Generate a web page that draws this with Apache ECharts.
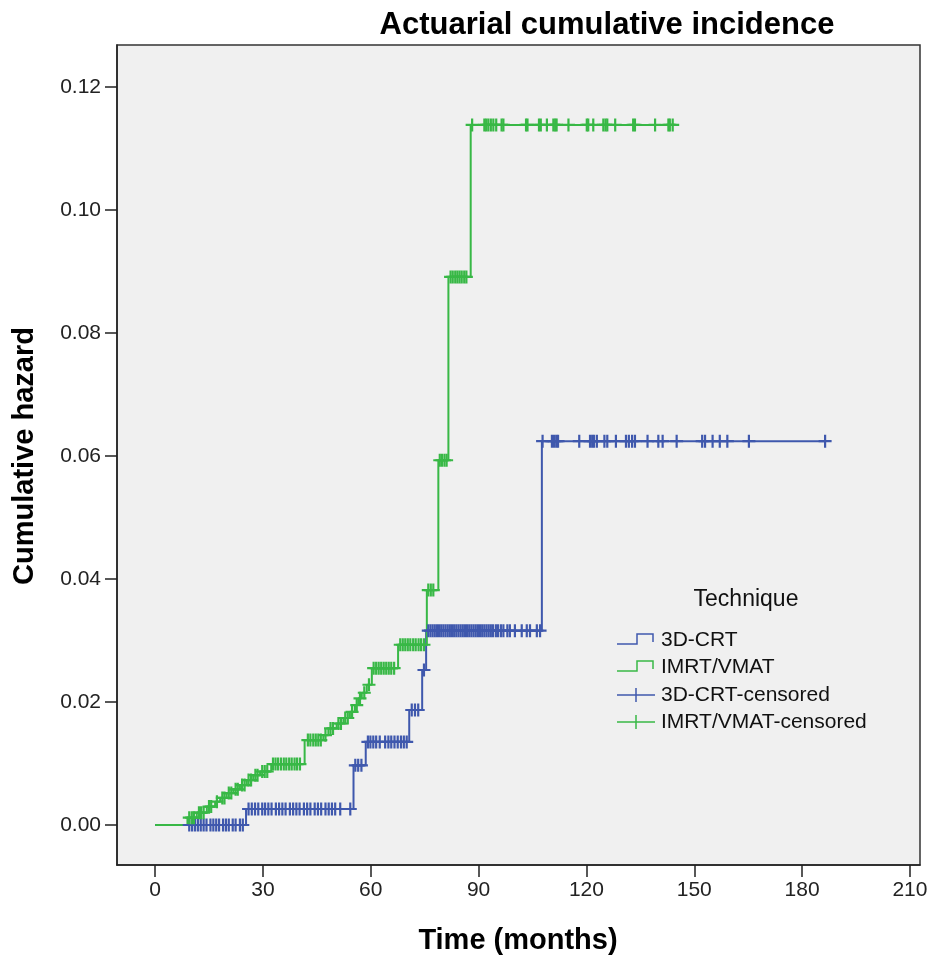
<!DOCTYPE html>
<html>
<head>
<meta charset="utf-8">
<title>Actuarial cumulative incidence</title>
<script src="https://cdn.jsdelivr.net/npm/echarts@6/dist/echarts.min.js"></script>
<style>
  html, body { margin: 0; padding: 0; background: #fff; }
  #chart { width: 936px; height: 960px; }
</style>
</head>
<body>
<div id="chart"></div>
<script>
// step events: [time, cumulative hazard after the event]
const crtSteps = [
  [0, 0], [25.3, 0.0026], [55.2, 0.0097], [58.6, 0.0135], [70.7, 0.0187],
  [74.3, 0.0252], [75.4, 0.0316], [107.6, 0.0624]
];
const crtEnd = 186.4;
const imrtSteps = [
  [0, 0], [9.0, 0.0012], [11.6, 0.002], [14.4, 0.003], [16.7, 0.0038],
  [18.1, 0.0044], [19.9, 0.0052], [21.8, 0.0058], [23.6, 0.0065], [25.5, 0.0073],
  [27.3, 0.0081], [29.2, 0.0087], [32.3, 0.0099], [41.6, 0.0138], [46.8, 0.0146],
  [48.2, 0.0157], [50.5, 0.0165], [52.4, 0.0174], [54.2, 0.0184], [55.6, 0.0195],
  [56.6, 0.0206], [57.5, 0.0215], [58.9, 0.0228], [60.3, 0.0255], [67.6, 0.0293],
  [75.6, 0.0382], [78.8, 0.0593], [81.6, 0.0891], [87.8, 0.1138]
];
const imrtEnd = 144.0;

// censored times (months)
const crtCensored = [
  9.5, 10.3, 11.1, 11.9, 12.7, 13.5, 14.3, 15.4, 16.2, 17, 17.8, 18.9, 19.7, 20.5, 21.6, 22.4, 23.6, 24.4,
  26, 26.9, 27.8, 28.7, 29.8, 30.6, 31.5, 32.4, 33.6, 34.5, 35.4, 36.3, 37.5, 38.4, 39.3, 40.2, 41.4,
  42.3, 43.2, 44.4, 45.3, 46.2, 47.4, 48.3, 49.2, 50.1, 51.5, 54.3,
  55.7, 56.5, 57.4,
  59.2, 59.9, 60.7, 61.5, 62.5, 64, 64.9, 65.7, 66.6, 67.5, 68.4, 69.2, 70,
  71.4, 72.3, 73.2, 74.8,
  76, 76.6, 77.2, 77.8, 78.4, 79, 79.6, 80.2, 80.8, 81.4, 82, 82.6, 83.2, 83.8, 84.4, 85, 85.6,
  86.2, 86.8, 87.4, 88, 88.6, 89.2, 89.8, 90.4, 91, 91.6, 92.2, 92.8, 93.4, 94, 94.8, 95.4, 96.2,
  96.9, 98, 98.7, 100.1, 102, 103.4, 104.3, 106.2, 107.1,
  107.8, 110.4, 111, 111.6, 112.1, 118, 121, 121.6, 122.1, 122.9, 125, 125.8, 128.2, 131, 131.8,
  132.7, 133.5, 137, 140, 141.2, 145.1, 152.2, 153, 155.1, 157.1, 159.2, 165.2, 186.4
];
const imrtCensored = [
  9.5, 10.2, 10.8, 12.2, 12.8, 13.5, 15, 15.6, 17.2, 18.7, 19.3, 20.5, 21.2, 22.4, 23, 24.2, 24.9,
  26, 26.7, 27.9, 28.5, 29.8, 30.5, 31.2, 32.8, 33.5, 34.2, 35, 35.8, 36.5, 37.3, 38, 38.8, 39.5,
  40.3, 42.5, 43.2, 44, 44.7, 45.4, 46.1, 47.4, 48.8, 49.5, 51, 51.7, 52.9, 53.6, 54.8, 56.1, 57,
  58.2, 59.5, 60.8, 61.5, 62.2, 62.9, 63.6, 64.3, 65, 65.7, 66.5, 68.2, 68.9, 69.6, 70.3, 71, 71.8,
  72.5, 73.3, 74, 74.8, 76, 76.7, 77.4, 79.2, 79.8, 80.5, 81.1, 82.2, 82.8, 83.5, 84.1, 84.7, 85.3,
  86, 86.6, 88.2, 91.6, 92.1, 92.7, 93.4, 94.1, 94.9, 96.4, 96.9, 103.2, 103.6, 106.8, 107.3, 109,
  110.8, 111.3, 111.7, 115, 120.1, 120.5, 121.9, 124.7, 125.3, 125.8, 128, 133, 133.5, 139.1,
  142.8, 143.2, 144
];

const xTicks = [0, 30, 60, 90, 120, 150, 180, 210];
const yTicks = [0, 0.02, 0.04, 0.06, 0.08, 0.1, 0.12];

const BLUE = "#3f58ad";
const GREEN = "#38b846";
const INK = "#222";
const FONT = "Liberation Sans, Arial, sans-serif";
// plus sign used for censored cases
const PLUS = "path://M5.4,0H7.6V5.4H13V7.6H7.6V13H5.4V7.6H0V5.4H5.4Z";

function valueAt(steps, t) {
  let v = 0;
  for (const s of steps) if (s[0] <= t) v = s[1];
  return v;
}
function withEnd(steps, end) {
  return steps.concat([[end, steps[steps.length - 1][1]]]);
}
function censorPoints(steps, times) {
  return times.map((t) => [t, valueAt(steps, t)]);
}

const chart = echarts.init(document.getElementById("chart"));

const legendX = 617;
const legendRows = [640, 667, 695, 722];
const stepIcon = (y) => [[legendX, y + 4], [legendX + 20, y + 4], [legendX + 20, y - 6], [legendX + 36, y - 6], [legendX + 36, y + 2]];

chart.setOption({
  animation: false,
  grid: {
    left: 117, top: 45, right: 16, bottom: 95,
    show: true, backgroundColor: "#f0f0f0", borderColor: "#333", borderWidth: 1.5
  },
  xAxis: {
    type: "value",
    min: -10.6,
    max: 212.8,
    axisLine: { show: true, onZero: false, lineStyle: { color: INK, width: 1.5 } },
    axisTick: { show: true, length: 12, customValues: xTicks, lineStyle: { color: INK, width: 1.5 } },
    axisLabel: { customValues: xTicks, fontSize: 21, color: INK, margin: 15, fontFamily: FONT },
    splitLine: { show: false }
  },
  yAxis: {
    type: "value",
    min: -0.0065,
    max: 0.1268,
    axisLine: { show: true, onZero: false, lineStyle: { color: INK, width: 1.5 } },
    axisTick: { show: true, length: 12, customValues: yTicks, lineStyle: { color: INK, width: 1.5 } },
    axisLabel: {
      customValues: yTicks, fontSize: 21, color: INK, margin: 16, fontFamily: FONT,
      formatter: (v) => v.toFixed(2)
    },
    splitLine: { show: false }
  },
  graphic: [
    {
      type: "text", x: 607, y: 25,
      style: { text: "Actuarial cumulative incidence", fontSize: 31, fontWeight: "bold", fontFamily: FONT, fill: "#000", align: "center", verticalAlign: "middle" }
    },
    {
      type: "text", x: 518, y: 941,
      style: { text: "Time (months)", fontSize: 29, fontWeight: "bold", fontFamily: FONT, fill: "#000", align: "center", verticalAlign: "middle" }
    },
    {
      type: "text", x: 25, y: 456, rotation: Math.PI / 2,
      style: { text: "Cumulative hazard", fontSize: 29, fontWeight: "bold", fontFamily: FONT, fill: "#000", align: "center", verticalAlign: "middle" }
    },
    {
      type: "text", x: 746, y: 600,
      style: { text: "Technique", fontSize: 23, fontFamily: FONT, fill: "#111", align: "center", verticalAlign: "middle" }
    },
    { type: "polyline", shape: { points: stepIcon(legendRows[0]) }, style: { stroke: BLUE, lineWidth: 1.5, fill: null } },
    { type: "polyline", shape: { points: stepIcon(legendRows[1]) }, style: { stroke: GREEN, lineWidth: 1.5, fill: null } },
    { type: "line", shape: { x1: legendX, y1: legendRows[2], x2: legendX + 38, y2: legendRows[2] }, style: { stroke: BLUE, lineWidth: 1.5 } },
    { type: "line", shape: { x1: legendX + 19, y1: legendRows[2] - 7, x2: legendX + 19, y2: legendRows[2] + 7 }, style: { stroke: BLUE, lineWidth: 1.5 } },
    { type: "line", shape: { x1: legendX, y1: legendRows[3], x2: legendX + 38, y2: legendRows[3] }, style: { stroke: GREEN, lineWidth: 1.5 } },
    { type: "line", shape: { x1: legendX + 19, y1: legendRows[3] - 7, x2: legendX + 19, y2: legendRows[3] + 7 }, style: { stroke: GREEN, lineWidth: 1.5 } },
    ...["3D-CRT", "IMRT/VMAT", "3D-CRT-censored", "IMRT/VMAT-censored"].map((t, i) => ({
      type: "text", x: 661, y: legendRows[i],
      style: { text: t, fontSize: 21, fontFamily: FONT, fill: "#111", align: "left", verticalAlign: "middle" }
    }))
  ],
  series: [
    {
      name: "3D-CRT", type: "line", step: "end", symbol: "none",
      data: withEnd(crtSteps, crtEnd),
      lineStyle: { color: BLUE, width: 2 }, itemStyle: { color: BLUE }, z: 2
    },
    {
      name: "IMRT/VMAT", type: "line", step: "end", symbol: "none",
      data: withEnd(imrtSteps, imrtEnd),
      lineStyle: { color: GREEN, width: 2 }, itemStyle: { color: GREEN }, z: 3
    },
    {
      name: "3D-CRT-censored", type: "scatter", symbol: PLUS, symbolSize: 13,
      data: censorPoints(crtSteps, crtCensored),
      itemStyle: { color: BLUE, opacity: 1 }, z: 4
    },
    {
      name: "IMRT/VMAT-censored", type: "scatter", symbol: PLUS, symbolSize: 13,
      data: censorPoints(imrtSteps, imrtCensored),
      itemStyle: { color: GREEN, opacity: 1 }, z: 5
    }
  ]
});
</script>
</body>
</html>
